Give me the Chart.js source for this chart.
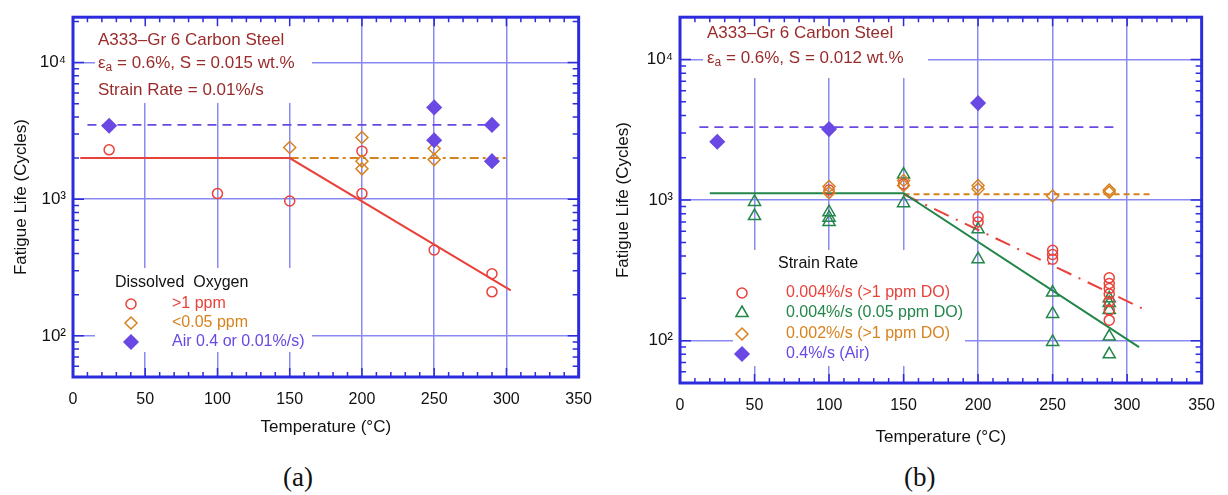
<!DOCTYPE html>
<html>
<head>
<meta charset="utf-8">
<script src="https://cdn.jsdelivr.net/npm/chart.js@4/dist/chart.umd.min.js"></script>
<style>
body { margin:0; background:#fff; width:1228px; height:495px; position:relative; overflow:hidden; }
.panel { position:absolute; top:0; height:450px; }
#wrapA { left:0; width:605px; }
#wrapB { left:605px; width:623px; }
.cap { position:absolute; top:462px; font-family:"Liberation Serif","Times New Roman",serif; font-size:27px; color:#111; }
</style>
</head>
<body>
<div class="panel" id="wrapA"><canvas id="chartA" width="605" height="450"></canvas></div>
<div class="panel" id="wrapB"><canvas id="chartB" width="623" height="450"></canvas></div>
<div class="cap" style="left:283px">(a)</div>
<div class="cap" style="left:904px">(b)</div>
<script>
// temperature ticks (°C) and decade ticks for the fatigue life axis
var tempTicks = [0, 50, 100, 150, 200, 250, 300, 350]
var lifeTicks = [100, 1000, 10000]

// (a) dissolved oxygen series, 0.01%/s
var a_hiDO_T = [25, 100, 150, 200, 200, 250, 290, 290]
var a_hiDO_N = [2300, 1100, 970, 2250, 1100, 425, 285, 210]
var a_loDO_T = [150, 200, 200, 200, 250, 250]
var a_loDO_N = [2390, 2830, 1900, 1670, 2350, 1950]
var a_air_T = [25, 250, 250, 290, 290]
var a_air_N = [3450, 4700, 2700, 3500, 1900]
// (a) trend lines
var a_hiDO_fitT = [5, 150, 303]
var a_hiDO_fitN = [2000, 2000, 215]
var a_loDO_fitT = [150, 300]
var a_loDO_fitN = [2000, 2000]
var a_air_fitT = [10, 295]
var a_air_fitN = [3500, 3500]

// (b) strain rate series
var b_slowHi_T = [100, 150, 200, 200, 250, 250, 250, 288, 288, 288, 288, 288, 288, 288]
var b_slowHi_N = [1180, 1300, 760, 700, 440, 410, 380, 280, 255, 235, 215, 190, 165, 140]
var b_slowLo_T = [50, 50, 100, 100, 100, 150, 150, 200, 200, 250, 250, 250, 288, 288, 288, 288, 288]
var b_slowLo_N = [970, 770, 820, 750, 700, 1520, 950, 620, 380, 220, 155, 98, 200, 185, 165, 107, 80]
var b_slower_T = [100, 100, 150, 150, 200, 200, 250, 288, 288]
var b_slower_N = [1250, 1130, 1380, 1270, 1270, 1200, 1070, 1180, 1140]
var b_air_T = [25, 100, 200]
var b_air_N = [2600, 3200, 4900]
// (b) trend lines
var b_slowLo_fitT = [20, 150, 308]
var b_slowLo_fitN = [1120, 1120, 90]
var b_slowHi_fitT = [150, 310]
var b_slowHi_fitN = [1100, 170]
var b_slower_fitT = [150, 316]
var b_slower_fitN = [1100, 1100]
var b_air_fitT = [13, 291]
var b_air_fitN = [3300, 3300]

var RED = '#e8423a', ORANGE = '#d8821e', PURPLE = '#6a48e4', GREEN = '#23864a'
var FRAME = '#2c2cdc', GRID = '#8a8af2', NOTE = '#9a2b2b'
var SANS = '"Liberation Sans", Arial, sans-serif'
var SUP = {100: '\u00b2', 1000: '\u00b3', 10000: '\u2074'}

function pts(ts, ns) {
    return ts.map((t, i) => ({x: t, y: ns[i]}))
}

function marks(ts, ns, style, color, filled, r) {
    return {
        data: pts(ts, ns), showLine: false, pointStyle: style, pointRadius: r,
        borderColor: color, backgroundColor: filled ? color : 'rgba(0,0,0,0)',
        pointBorderWidth: 1.5, order: 1
    }
}

function fit(ts, ns, color, dash, w) {
    return {
        data: pts(ts, ns), showLine: true, pointRadius: 0, borderColor: color,
        borderWidth: w || 2, borderDash: dash || [], order: 2
    }
}

function drawMark(ctx, style, x, y, r) {
    if (style === 'circle') {
        ctx.arc(x, y, r, 0, Math.PI * 2)
    } else if (style === 'rectRot') {
        ctx.moveTo(x, y - r); ctx.lineTo(x + r, y); ctx.lineTo(x, y + r); ctx.lineTo(x - r, y); ctx.closePath()
    } else {
        ctx.moveTo(x, y - r); ctx.lineTo(x + r * 0.87, y + r / 2); ctx.lineTo(x - r * 0.87, y + r / 2); ctx.closePath()
    }
}

// white boxes with the note and legend, then frame and inward ticks
function panelPlugin(p) {
    return {
        id: 'panel',
        beforeDatasetsDraw(chart) {
            let ctx = chart.ctx
            ctx.save()
            ctx.fillStyle = '#fff'
            for (let b of p.boxes) ctx.fillRect(b[0], b[1], b[2] - b[0], b[3] - b[1])
            ctx.textBaseline = 'middle'
            ctx.fillStyle = NOTE
            for (let ln of p.note) {
                let x = p.noteX
                for (let seg of ln.segs) {
                    ctx.font = (seg.sub ? 12 : 17) + 'px ' + SANS
                    ctx.fillText(seg.t, x, ln.y + (seg.sub ? 5 : 0))
                    x += ctx.measureText(seg.t).width
                }
            }
            ctx.font = '16px ' + SANS
            ctx.fillStyle = '#111'
            ctx.fillText(p.legTitle, p.legTitleX, p.legTitleY)
            p.legend.forEach((it, i) => {
                let y = p.legY[i]
                ctx.strokeStyle = it.color
                ctx.fillStyle = it.color
                ctx.lineWidth = 1.5
                ctx.beginPath()
                drawMark(ctx, it.style, p.legMarkX, y, it.r)
                if (it.filled) ctx.fill()
                ctx.stroke()
                ctx.font = '16px ' + SANS
                ctx.fillText(it.text, p.legTextX, y)
            })
            ctx.restore()
        },
        afterDraw(chart) {
            let ctx = chart.ctx, a = chart.chartArea, x = chart.scales.x, y = chart.scales.y
            ctx.save()
            ctx.strokeStyle = FRAME
            ctx.lineWidth = 1.5
            ctx.beginPath()
            for (let t = x.min; t <= x.max; t += 10) {
                let px = x.getPixelForValue(t), len = t % 50 === 0 ? 9 : 5
                ctx.moveTo(px, a.bottom); ctx.lineTo(px, a.bottom - len)
                ctx.moveTo(px, a.top); ctx.lineTo(px, a.top + len)
            }
            for (let d = 10; d <= 10000; d *= 10)
                for (let m = 1; m < 10; m++) {
                    let v = d * m
                    if (v < y.min || v > y.max) continue
                    let py = y.getPixelForValue(v), len = m === 1 ? 11 : 6
                    ctx.moveTo(a.left, py); ctx.lineTo(a.left + len, py)
                    ctx.moveTo(a.right, py); ctx.lineTo(a.right - len, py)
                }
            ctx.stroke()
            ctx.lineWidth = 3
            ctx.strokeRect(a.left, a.top, a.right - a.left, a.bottom - a.top)
            // axis titles
            ctx.fillStyle = '#111'
            ctx.font = '17px ' + SANS
            ctx.textAlign = 'center'
            ctx.textBaseline = 'middle'
            ctx.fillText('Temperature (\u00b0C)', (a.left + a.right) / 2, p.xTitleY)
            ctx.translate(p.yTitleX, (a.top + a.bottom) / 2)
            ctx.rotate(-Math.PI / 2)
            ctx.fillText('Fatigue Life (Cycles)', 0, 0)
            ctx.restore()
        }
    }
}

function makeChart(id, datasets, yMax, pad, yWidth, xHeight, p) {
    return new Chart(document.getElementById(id), {
        type: 'scatter',
        data: {datasets: datasets},
        options: {
            responsive: false, animation: false, devicePixelRatio: 1,
            layout: {padding: pad},
            plugins: {legend: {display: false}, tooltip: {enabled: false}},
            scales: {
                x: {
                    type: 'linear', min: 0, max: 350,
                    afterBuildTicks: s => { s.ticks = tempTicks.map(v => ({value: v})) },
                    afterFit: s => { s.height = xHeight },
                    ticks: {color: '#111', font: {family: SANS, size: 16}, padding: 13},
                    grid: {color: GRID, lineWidth: 1.5, drawTicks: false},
                    border: {display: false}
                },
                y: {
                    type: 'logarithmic', min: 50, max: yMax,
                    afterBuildTicks: s => { s.ticks = lifeTicks.map(v => ({value: v})) },
                    afterFit: s => { s.width = yWidth },
                    ticks: {color: '#111', font: {family: SANS, size: 17}, padding: 7,
                        callback: v => '10' + SUP[v]},
                    grid: {color: GRID, lineWidth: 1.5, drawTicks: false},
                    border: {display: false}
                }
            }
        },
        plugins: [panelPlugin(p)]
    })
}

makeChart('chartA', [
    marks(a_air_T, a_air_N, 'rectRot', PURPLE, true, 7),
    marks(a_loDO_T, a_loDO_N, 'rectRot', ORANGE, false, 6),
    marks(a_hiDO_T, a_hiDO_N, 'circle', RED, false, 5),
    fit(a_hiDO_fitT, a_hiDO_fitN, RED, [], 2),
    fit(a_loDO_fitT, a_loDO_fitN, ORANGE, [9, 4, 3, 4], 2),
    fit(a_air_fitT, a_air_fitN, PURPLE, [9, 6], 1.8)
], 21500, {left: 0, top: 15, right: 25, bottom: 0}, 73, 73, {
    boxes: [[95, 17, 312, 103], [95, 268, 312, 352]],
    noteX: 98,
    note: [
        {y: 40, segs: [{t: 'A333\u2013Gr 6 Carbon Steel'}]},
        {y: 63, segs: [{t: '\u03b5'}, {t: 'a', sub: true}, {t: ' = 0.6%, S = 0.015 wt.%'}]},
        {y: 90, segs: [{t: 'Strain Rate = 0.01%/s'}]}
    ],
    legTitle: 'Dissolved  Oxygen', legTitleX: 115, legTitleY: 283,
    legMarkX: 131, legTextX: 172, legY: [304, 323, 342],
    legend: [
        {style: 'circle', r: 5, color: RED, filled: false, text: '>1 ppm'},
        {style: 'rectRot', r: 6, color: ORANGE, filled: false, text: '<0.05 ppm'},
        {style: 'rectRot', r: 7, color: PURPLE, filled: true, text: 'Air 0.4 or 0.01%/s)'}
    ],
    xTitleY: 427, yTitleX: 21
})

makeChart('chartB', [
    marks(b_air_T, b_air_N, 'rectRot', PURPLE, true, 7),
    marks(b_slower_T, b_slower_N, 'rectRot', ORANGE, false, 6),
    marks(b_slowHi_T, b_slowHi_N, 'circle', RED, false, 5),
    marks(b_slowLo_T, b_slowLo_N, 'triangle', GREEN, false, 7),
    fit(b_slowLo_fitT, b_slowLo_fitN, GREEN, [], 2),
    fit(b_slowHi_fitT, b_slowHi_fitN, RED, [16, 8, 2, 8], 2),
    fit(b_slower_fitT, b_slower_fitN, ORANGE, [6, 4], 2),
    fit(b_air_fitT, b_air_fitN, PURPLE, [9, 6], 1.8)
], 20000, {left: 0, top: 11, right: 26, bottom: 0}, 75, 67, {
    boxes: [[98, 13, 323, 78], [128, 250, 360, 366]],
    noteX: 102,
    note: [
        {y: 33, segs: [{t: 'A333\u2013Gr 6 Carbon Steel'}]},
        {y: 58, segs: [{t: '\u03b5'}, {t: 'a', sub: true}, {t: ' = 0.6%, S = 0.012 wt.%'}]}
    ],
    legTitle: 'Strain Rate', legTitleX: 173, legTitleY: 264,
    legMarkX: 137, legTextX: 181, legY: [293, 313, 334, 354],
    legend: [
        {style: 'circle', r: 5, color: RED, filled: false, text: '0.004%/s (>1 ppm DO)'},
        {style: 'triangle', r: 7, color: GREEN, filled: false, text: '0.004%/s (0.05 ppm DO)'},
        {style: 'rectRot', r: 6, color: ORANGE, filled: false, text: '0.002%/s (>1 ppm DO)'},
        {style: 'rectRot', r: 7, color: PURPLE, filled: true, text: '0.4%/s (Air)'}
    ],
    xTitleY: 437, yTitleX: 18
})
</script>
</body>
</html>
